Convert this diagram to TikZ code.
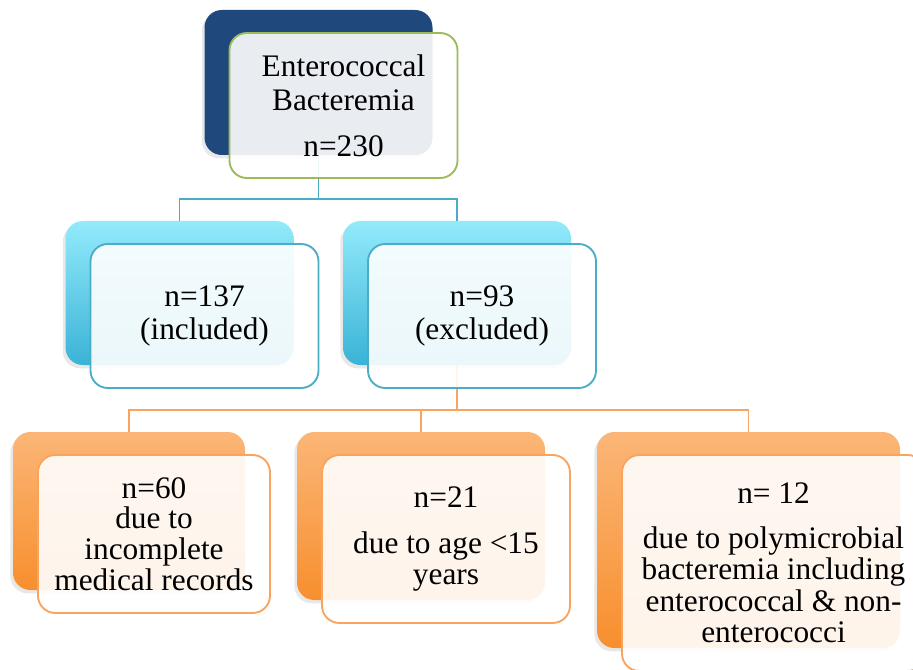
\documentclass[tikz,border=0pt]{standalone}
\usepackage{fontspec}
\setmainfont{Liberation Serif}
\usetikzlibrary{shadows}

\definecolor{navy}{HTML}{1F497D}
\definecolor{leafgreen}{HTML}{9BBB59}
\definecolor{skyline}{HTML}{4BACC6}
\definecolor{skytop}{HTML}{93EAFB}
\definecolor{skybot}{HTML}{3AB3D6}
\definecolor{peachline}{HTML}{F9A35F}
\definecolor{peachtop}{HTML}{FBB677}
\definecolor{peachbot}{HTML}{F78F2E}

\begin{document}
\begin{tikzpicture}[x=0.75pt, y=-0.75pt,
    backbox/.style={rectangle, rounded corners=13pt,
        drop shadow={shadow xshift=-2pt, shadow yshift=-2.5pt, opacity=0.18}},
    frontbox/.style={rectangle, rounded corners=13pt, fill=white, fill opacity=0.9,
        text opacity=1, line width=1.4pt, align=center, inner sep=0pt},
    topsize/.style={minimum width=171pt, minimum height=108.75pt},
    midsize/.style={minimum width=171pt, minimum height=108pt},
    bluelink/.style={skyline, line width=1.3pt},
    orangelink/.style={peachline, line width=1.3pt}]

    \clip (0,0) rectangle (913,670);

    % Back boxes
    \node[backbox, topsize, fill=navy] (root-b) at (318.5,82.5) {};
    \node[backbox, midsize, top color=skytop, bottom color=skybot] (incl-b) at (179.5,293) {};
    \node[backbox, midsize, top color=skytop, bottom color=skybot] (excl-b) at (457,293) {};
    \node[backbox, minimum width=174pt, minimum height=118.5pt,
          top color=peachtop, bottom color=peachbot] (rec-b) at (129,511) {};
    \node[backbox, minimum width=186pt, minimum height=126pt,
          top color=peachtop, bottom color=peachbot] (age-b) at (421,516) {};
    \node[backbox, minimum width=227.25pt, minimum height=162pt,
          top color=peachtop, bottom color=peachbot] (poly-b) at (748.5,540) {};

    % Junctions
    \coordinate (j1) at (318.5,199);
    \coordinate (j2) at (457,410);

    % Connectors
    \draw[bluelink] (root-b.south) -- (j1);
    \draw[bluelink] (incl-b.north) |- (j1) -| (excl-b.north);
    \draw[orangelink] (excl-b.south) -- (j2);
    \draw[orangelink] (rec-b.north) |- (j2) -| (poly-b.north);
    \draw[orangelink] (age-b.north) -- (age-b.north |- j2);

    % Front boxes with the text
    \node[frontbox, topsize, draw=leafgreen, font=\fontsize{23.5}{25.5}\selectfont]
        (root) at ([shift={(25,23)}]root-b) {Enterococcal\\Bacteremia\\[9pt]n=230};
    \node[frontbox, midsize, draw=skyline, font=\fontsize{23.5}{25}\selectfont]
        (incl) at ([shift={(25,23)}]incl-b) {n=137\\(included)};
    \node[frontbox, midsize, draw=skyline, font=\fontsize{23.5}{25}\selectfont]
        (excl) at ([shift={(25,23)}]excl-b) {n=93\\(excluded)};
    \node[frontbox, minimum width=174pt, minimum height=118.5pt, draw=peachline,
          font=\fontsize{23.5}{23}\selectfont]
        (rec) at ([shift={(25,23)}]rec-b) {n=60\\due to\\incomplete\\medical records};
    \node[frontbox, minimum width=186pt, minimum height=126pt, draw=peachline,
          font=\fontsize{23.5}{23.5}\selectfont]
        (age) at ([shift={(25,23)}]age-b) {n=21\\[11pt]due to age <15\\years};
    \node[frontbox, minimum width=227.25pt, minimum height=162pt, draw=peachline,
          font=\fontsize{23.5}{23.5}\selectfont]
        (poly) at ([shift={(25,23)}]poly-b)
        {n= 12\\[10pt]due to polymicrobial\\bacteremia including\\enterococcal \& non-\\enterococci};

\end{tikzpicture}
\end{document}
